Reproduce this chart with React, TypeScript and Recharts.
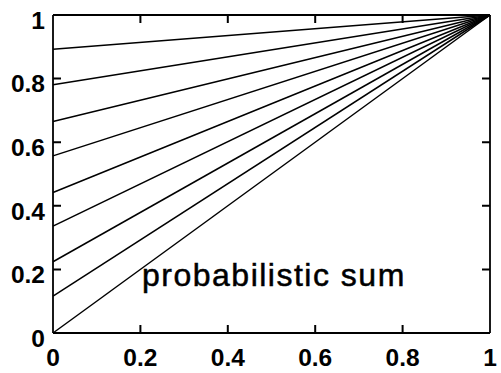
import React from "react";
import { Line, LineChart, ReferenceLine, XAxis, YAxis } from "recharts";

const xTicks = [0, 0.2, 0.4, 0.6, 0.8, 1];
const yTicks = [0, 0.2, 0.4, 0.6, 0.8, 1];
const startValues = [0, 0.116, 0.224, 0.336, 0.442, 0.557, 0.665, 0.781, 0.892];
const endValues = [1, 1, 1, 1, 1, 1, 1, 1, 1];
const xStart = 0;
const xEnd = 1;

const FONT = "'Liberation Sans', Arial, Helvetica, sans-serif";
// plot box edges, used for the inward ticks on all four sides
const PLOT_TOP = 15;
const PLOT_BOTTOM = 333;
const PLOT_LEFT = 53;
const PLOT_RIGHT = 490;
const TICK = 8;

const XTick = (props: any) => {
  const { x, payload } = props;
  const inner = payload.value > 0 && payload.value < 1;
  return (
    <g>
      {inner && (
        <path
          d={`M${x},${PLOT_TOP}v${TICK}M${x},${PLOT_BOTTOM}v${-TICK}`}
          stroke="#000"
          strokeWidth={2}
          fill="none"
        />
      )}
      <text
        x={x}
        y={PLOT_BOTTOM + 24}
        dy="0.36em"
        textAnchor="middle"
        fontFamily={FONT}
        fontWeight="bold"
        fontSize={24.5}
        fill="#000"
      >
        {payload.value}
      </text>
    </g>
  );
};

const YTick = (props: any) => {
  const { y, payload } = props;
  const inner = payload.value > 0 && payload.value < 1;
  return (
    <g>
      {inner && (
        <path
          d={`M${PLOT_LEFT},${y}h${TICK}M${PLOT_RIGHT},${y}h${-TICK}`}
          stroke="#000"
          strokeWidth={2}
          fill="none"
        />
      )}
      <text
        x={PLOT_LEFT - 8}
        y={y + 5}
        dy="0.36em"
        textAnchor="end"
        fontFamily={FONT}
        fontWeight="bold"
        fontSize={24.5}
        fill="#000"
      >
        {payload.value}
      </text>
    </g>
  );
};

const axisLine = { stroke: "#000", strokeWidth: 1.8 };

const App = () => {
  const lines = startValues.map((start, i) => [
    { x: xStart, y: start },
    { x: xEnd, y: endValues[i] },
  ]);

  return (
    <div style={{ position: "absolute", left: 0, top: 0, width: 501, height: 373, background: "#fff" }}>
      <LineChart width={501} height={373} margin={{ top: 15, right: 11, bottom: 0, left: 0 }}>
        <XAxis
          dataKey="x"
          type="number"
          domain={[0, 1]}
          ticks={xTicks}
          height={40}
          axisLine={axisLine}
          tickLine={false}
          tick={<XTick />}
        />
        <YAxis
          type="number"
          domain={[0, 1]}
          ticks={yTicks}
          width={53}
          axisLine={axisLine}
          tickLine={false}
          tick={<YTick />}
        />
        <ReferenceLine y={1} stroke="#000" strokeWidth={1.8} />
        <ReferenceLine x={1} stroke="#000" strokeWidth={1.8} />
        {lines.map((d, i) => (
          <Line
            key={`line-${i}`}
            data={d}
            dataKey="y"
            type="linear"
            stroke="#000"
            strokeWidth={1.5}
            dot={false}
            activeDot={false}
            isAnimationActive={false}
          />
        ))}
      </LineChart>
      <div
        style={{
          position: "absolute",
          left: 142,
          top: 257,
          fontFamily: FONT,
          fontSize: 32,
          letterSpacing: 1.5,
          lineHeight: "36px",
          color: "#000",
          whiteSpace: "nowrap",
          WebkitTextStroke: "0.5px #000",
        }}
      >
        probabilistic sum
      </div>
    </div>
  );
};

export default App;
